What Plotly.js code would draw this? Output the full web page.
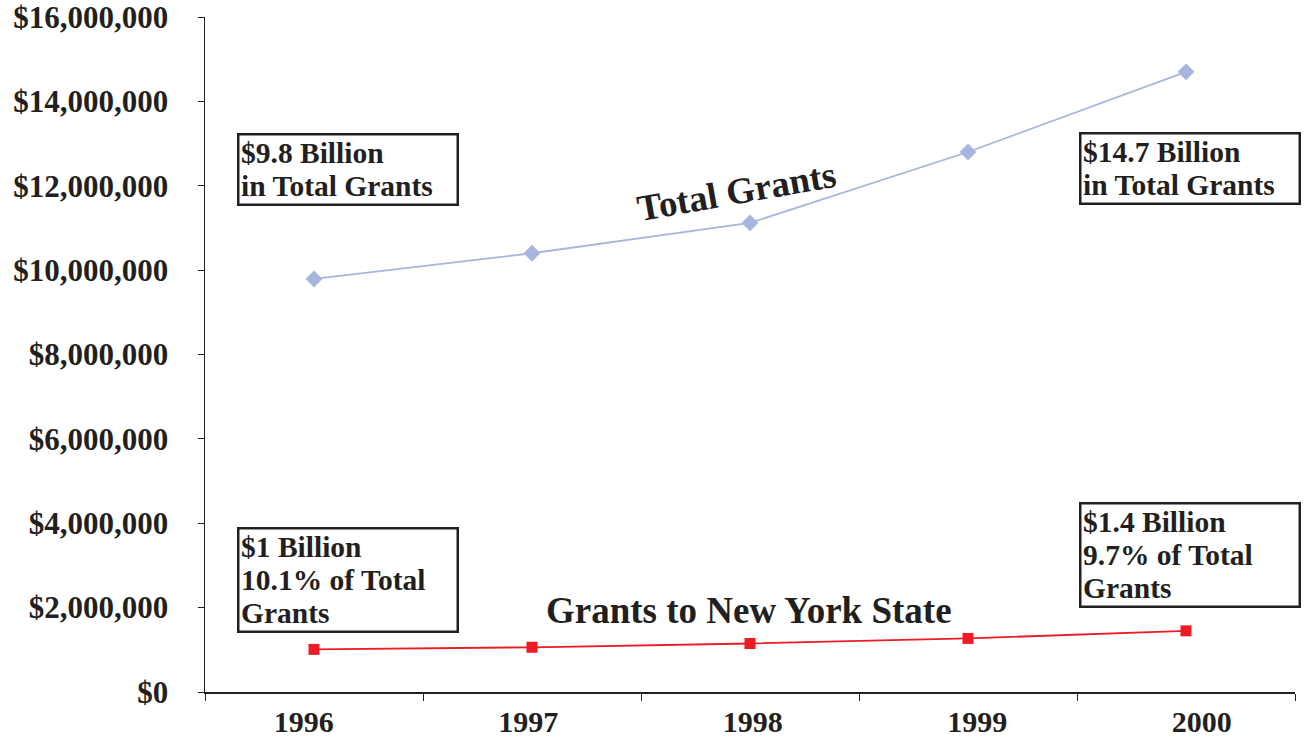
<!DOCTYPE html>
<html><head><meta charset="utf-8">
<script src="https://cdn.plot.ly/plotly-3.0.1.min.js"></script>
<style>body{margin:0;background:#fff}#c{width:1304px;height:740px}</style>
</head><body><div id="c"></div>
<script>
const years = ['1996','1997','1998','1999','2000'];
const totalGrants = [9790000, 10400000, 11120000, 12800000, 14700000];
const nyGrants = [1010000, 1060000, 1150000, 1270000, 1450000];
const yTicks = [0,2000000,4000000,6000000,8000000,10000000,12000000,14000000,16000000];
const yTickText = ['$0','$2,000,000','$4,000,000','$6,000,000','$8,000,000','$10,000,000','$12,000,000','$14,000,000','$16,000,000'];
const boxTotalStart = ['$9.8 Billion','in Total Grants'];
const boxTotalEnd = ['$14.7 Billion','in Total Grants'];
const boxNYStart = ['$1 Billion','10.1% of Total','Grants'];
const boxNYEnd = ['$1.4 Billion','9.7% of Total','Grants'];

const ink = '#231f20';
const fam = 'Liberation Serif';

const traces = [
  {x: years, y: totalGrants, type:'scatter', mode:'lines+markers', name:'Total Grants',
   line:{color:'#a8b6df', width:1.8}, marker:{symbol:'diamond', size:13, color:'#a8b6df'}},
  {x: years, y: nyGrants, type:'scatter', mode:'lines+markers', name:'Grants to New York State',
   line:{color:'#ed1c24', width:1.8}, marker:{symbol:'square', size:11, color:'#ed1c24'}},
  // carrier for the year labels axis (invisible)
  {x: years, y: nyGrants, xaxis:'x2', type:'scatter', mode:'markers', hoverinfo:'skip',
   marker:{opacity:0, size:1}, showlegend:false}
];

function styled(line, size){
  return '<span style="font-family:Liberation Serif;font-size:' + size + 'px"><b>' + line + '</b></span>';
}
function box(x, y, lines){
  return {x:x, y:y, xref:'x', yref:'y', text:lines.map(l => styled(l, 29.5)).join('<br>'),
    showarrow:false, align:'left', xanchor:'center', yanchor:'middle', width:214, borderpad:1.5,
    bordercolor:ink, borderwidth:2.5, bgcolor:'#fff', font:{family:fam, size:25.2, color:ink}};
}

const layout = {
  width:1304, height:740,
  margin:{l:205, r:9, t:17, b:48},
  paper_bgcolor:'#fff', plot_bgcolor:'#fff',
  showlegend:false,
  font:{family:fam, color:ink},
  xaxis:{type:'category', range:[-0.5,4.5], showline:true, linecolor:ink, linewidth:1.5,
    ticks:'outside', tickson:'boundaries', ticklen:7, tickcolor:ink, showgrid:false, zeroline:false,
    showticklabels:false},
  xaxis2:{type:'category', overlaying:'x', anchor:'y', side:'bottom', range:[-0.44, 4.415],
    showline:false, ticks:'', showgrid:false, zeroline:false, ticklabelstandoff:9,
    tickfont:{family:fam, size:30, color:ink, weight:'bold'}},
  yaxis:{range:[0,16000000], tickmode:'array', tickvals:yTicks, ticktext:yTickText,
    showline:true, linecolor:ink, linewidth:1.5, ticks:'outside', ticklen:6, tickcolor:ink,
    showgrid:false, zeroline:false, ticklabelstandoff:23, ticklabeloverflow:'allow',
    tickfont:{family:fam, size:31, color:ink, weight:'bold'}},
  annotations:[
    box(0.158, 12385000, boxTotalStart),
    box(4.018, 12410000, boxTotalEnd),
    box(0.158, 2650000, boxNYStart),
    box(4.018, 3250000, boxNYEnd),
    {x:1.938, y:11860000, xref:'x', yref:'y', text:styled('Total Grants', 37), showarrow:false,
     textangle:-10, font:{family:fam, size:37, color:ink}},
    {x:1.995, y:1940000, xref:'x', yref:'y', text:styled('Grants to New York State', 37), showarrow:false,
     font:{family:fam, size:37, color:ink}}
  ]
};
Plotly.newPlot('c', traces, layout, {displayModeBar:false, staticPlot:true});
</script></body></html>
